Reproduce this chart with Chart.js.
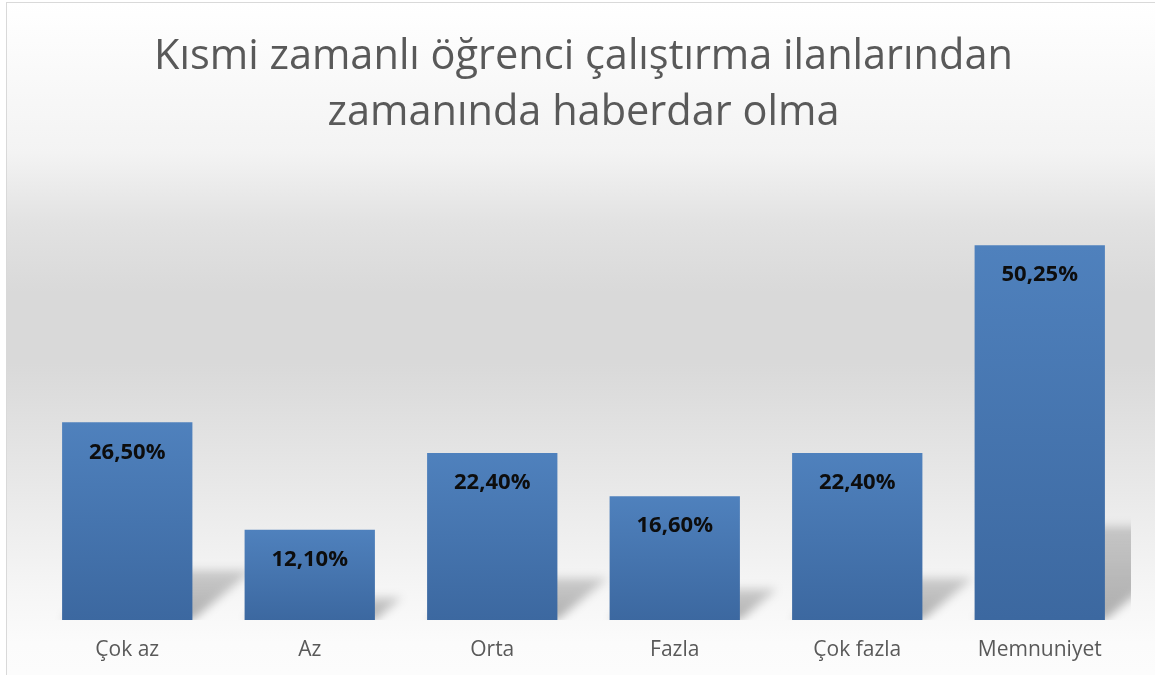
<!DOCTYPE html>
<html lang="tr">
<head>
<meta charset="utf-8">
<title>Kısmi zamanlı öğrenci çalıştırma ilanlarından zamanında haberdar olma</title>
<script src="https://cdn.jsdelivr.net/npm/chart.js@4.4.1/dist/chart.umd.min.js"></script>
<style>
  html, body { margin: 0; padding: 0; background: #fff; overflow: hidden; }
  #frame {
    position: absolute; left: 6px; top: 2px; width: 1160px; height: 700px;
    border: 1px solid #d9d9d9;
    background: linear-gradient(to bottom,
      #ffffff 0px, #f3f3f3 150px, #e2e2e2 220px, #d9d9d9 290px,
      #d9d9d9 360px, #e3e3e3 440px, #ededed 520px, #f6f6f6 590px, #fbfbfb 640px, #fdfdfd 700px);
  }
  #wrap { position: absolute; left: 0; top: 0; width: 1155px; height: 675px; }
</style>
</head>
<body>
<div id="frame"></div>
<div id="wrap"><canvas id="chart" width="1155" height="675"></canvas></div>
<script>
const titleLines = ['Kısmi zamanlı öğrenci çalıştırma ilanlarından', 'zamanında haberdar olma'];
const categories = ['Çok az', 'Az', 'Orta', 'Fazla', 'Çok fazla', 'Memnuniyet'];
const values = [26.5, 12.1, 22.4, 16.6, 22.4, 50.25];
const valueLabels = ['26,50%', '12,10%', '22,40%', '16,60%', '22,40%', '50,25%'];

const FONT = "'Open Sans', Lato, sans-serif";

// per-bar vertical gradient, lighter at the top
function barFill(ctx) {
  const chart = ctx.chart;
  const area = chart.chartArea;
  if (!area || ctx.dataIndex === undefined) return '#4a7ab5';
  const y = chart.scales.y;
  const top = y.getPixelForValue(values[ctx.dataIndex]);
  const bottom = y.getPixelForValue(0);
  const g = chart.ctx.createLinearGradient(0, top, 0, bottom);
  g.addColorStop(0, '#4f81bd');
  g.addColorStop(1, '#3c68a0');
  return g;
}

// soft perspective shadow behind each bar
const barShadow = {
  id: 'barShadow',
  beforeDatasetsDraw(chart) {
    const { ctx, chartArea } = chart;
    const meta = chart.getDatasetMeta(0);
    ctx.save();
    ctx.beginPath();
    ctx.rect(chartArea.left, chartArea.top, chartArea.right - chartArea.left, chartArea.bottom - chartArea.top);
    ctx.clip();
    ctx.filter = 'blur(5px)';
    meta.data.forEach(bar => {
      const h = bar.base - bar.y;
      const left = bar.x - bar.width / 2;
      const right = bar.x + bar.width / 2;
      const sh = h * 0.25;
      const dx = h * 0.3;
      const g = ctx.createLinearGradient(0, bar.base, 0, bar.base - sh);
      g.addColorStop(0, 'rgba(0,0,0,0.30)');
      g.addColorStop(1, 'rgba(0,0,0,0.17)');
      ctx.fillStyle = g;
      ctx.beginPath();
      ctx.moveTo(left, bar.base);
      ctx.lineTo(right, bar.base);
      ctx.lineTo(right + dx, bar.base - sh);
      ctx.lineTo(left + dx, bar.base - sh);
      ctx.closePath();
      ctx.fill();
    });
    ctx.restore();
  }
};

// value labels inside the top of the bars
const insideLabels = {
  id: 'insideLabels',
  afterDatasetsDraw(chart) {
    const { ctx } = chart;
    const meta = chart.getDatasetMeta(0);
    ctx.save();
    ctx.font = "bold 22px " + FONT;
    ctx.fillStyle = '#0d0d0d';
    ctx.textAlign = 'center';
    ctx.textBaseline = 'middle';
    meta.data.forEach((bar, i) => {
      ctx.fillText(valueLabels[i], bar.x, bar.y + 30);
    });
    ctx.restore();
  }
};

new Chart(document.getElementById('chart'), {
  type: 'bar',
  data: {
    labels: categories,
    datasets: [{
      data: values,
      backgroundColor: barFill,
      borderWidth: 0,
      categoryPercentage: 1,
      barPercentage: 0.714,
    }]
  },
  options: {
    responsive: false,
    animation: false,
    layout: { padding: { left: 36, right: 24, top: 0, bottom: 0 } },
    plugins: {
      legend: { display: false },
      tooltip: { enabled: false },
      title: {
        display: true,
        text: titleLines,
        color: '#595959',
        font: { family: FONT, size: 41.5, weight: 'normal', lineHeight: 1.33 },
        padding: { top: 30, bottom: 32 },
      }
    },
    scales: {
      x: {
        grid: { display: false, drawTicks: false },
        border: { display: false },
        afterFit: (scale) => { scale.height = 55; },
        ticks: {
          color: '#595959',
          padding: 17,
          font: { family: FONT, size: 21 },
        }
      },
      y: {
        display: false,
        min: 0,
        max: 60,
      }
    }
  },
  plugins: [barShadow, insideLabels]
});
</script>
</body>
</html>
